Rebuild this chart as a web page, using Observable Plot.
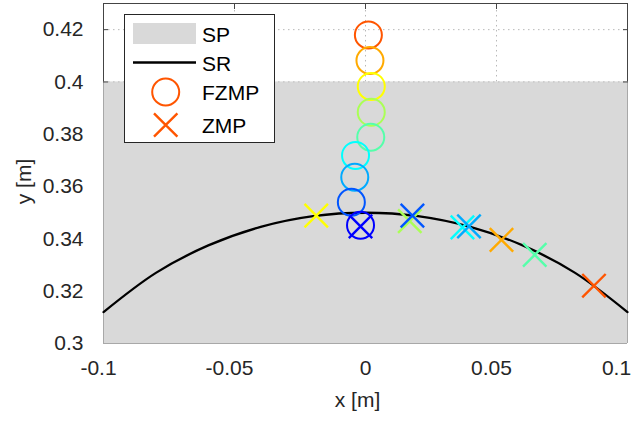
<!DOCTYPE html>
<html>
<head>
<meta charset="utf-8">
<script src="https://cdn.jsdelivr.net/npm/d3@7"></script>
<script src="https://cdn.jsdelivr.net/npm/@observablehq/plot@0.6"></script>
<style>
  html, body { margin: 0; padding: 0; background: #fff; }
  #wrap { position: relative; width: 636px; height: 421px; }
  #legend { position: absolute; left: 0; top: 0; pointer-events: none; }
</style>
</head>
<body>
<div id="wrap"></div>
<script>
// ---- data ----
const xTicks = [-0.1, -0.05, 0, 0.05, 0.1];
const xTickLabels = ["-0.1", "-0.05", "0", "0.05", "0.1"];
const yTicks = [0.3, 0.32, 0.34, 0.36, 0.38, 0.4, 0.42];
const yTickLabels = ["0.3", "0.32", "0.34", "0.36", "0.38", "0.4", "0.42"];
const xDomain = [-0.1, 0.1];
const yDomain = [0.3, 0.43];
const xTitle = "x [m]";
const yTitle = "y [m]";

// support polygon (SP) band
const spX = [-0.1, 0.1];
const spY = [0.3, 0.4];

// support region boundary curve (SR)
const srX = [-0.1, -0.08, -0.06, -0.04, -0.02, 0, 0.02, 0.04, 0.06, 0.08, 0.1];
const srY = [0.312, 0.327, 0.3375, 0.3446, 0.3487, 0.35, 0.3487, 0.3446, 0.3375, 0.327, 0.312];

// time-step colours (jet-like)
const stepColors = ["#0000ff", "#0055ff", "#00aaff", "#00ffff", "#55ffaa", "#aaff55", "#ffff00", "#ffaa00", "#ff5500"];

// FZMP (circles)
const fzmpX = [-0.0019, -0.0054, -0.0041, -0.0038, 0.0020, 0.0022, 0.0022, 0.0017, 0.0011];
const fzmpY = [0.3452, 0.3540, 0.3636, 0.3719, 0.3789, 0.3884, 0.3983, 0.4082, 0.4180];

// ZMP (crosses)
const zmpX = [-0.0019, 0.0179, 0.0395, 0.0370, 0.0646, 0.0169, -0.0188, 0.0519, 0.0872];
const zmpY = [0.3448, 0.3489, 0.3448, 0.3444, 0.3339, 0.3468, 0.3489, 0.3396, 0.3221];

const legendLabels = ["SP", "SR", "FZMP", "ZMP"];

// ---- tables ----
const spData = [{x1: spX[0], x2: spX[1], y1: spY[0], y2: spY[1]}];
const srData = srX.map((x, i) => ({x, y: srY[i]}));
const order = d3.range(stepColors.length).reverse();
const fzmpData = order.map(i => ({x: fzmpX[i], y: fzmpY[i], c: stepColors[i]}));
const zmpData = order.map(i => ({x: zmpX[i], y: zmpY[i], c: stepColors[i]}));

const W = 636, H = 421;
const M = {left: 103, right: 9, top: 3, bottom: 78};
const FONT = "'Liberation Sans', Arial, Helvetica, sans-serif";
const FS = 21;
const gridStyle = {stroke: "#b8b8b8", strokeDasharray: "1.5,3.5", strokeWidth: 1};
const xLab = d => xTickLabels[xTicks.indexOf(d)];
const yLab = d => yTickLabels[yTicks.indexOf(d)];
const inner = xTicks.filter(v => v > xDomain[0] && v < xDomain[1]);

const chart = Plot.plot({
  width: W, height: H,
  marginLeft: M.left, marginRight: M.right, marginTop: M.top, marginBottom: M.bottom,
  x: {domain: xDomain},
  y: {domain: yDomain},
  color: {type: "identity"},
  style: {fontFamily: FONT, fontSize: FS + "px", color: "#262626", background: "#fff"},
  marks: [
    // grid in the white part
    Plot.ruleY(yTicks.filter(v => v >= spY[1]), {...gridStyle}),
    Plot.ruleX(inner, {y1: spY[1], y2: yDomain[1], ...gridStyle}),
    // SP patch
    Plot.rect(spData, {x1: "x1", x2: "x2", y1: "y1", y2: "y2", fill: "#d9d9d9"}),
    Plot.ruleY([spY[1]], {...gridStyle, stroke: "#c4c4c4"}),
    // patch edges
    Plot.ruleX(spX, {y1: spY[0], y2: spY[1], stroke: "#a8a8a8"}),
    Plot.ruleY([spY[0]], {stroke: "#a8a8a8"}),
    // frame of white region
    Plot.ruleX(xDomain, {y1: spY[1], y2: yDomain[1], stroke: "#444"}),
    Plot.ruleY([yDomain[1]], {stroke: "#444"}),
    // inward tick marks
    Plot.axisX(inner, {anchor: "top", tickSize: -5, tickFormat: () => "", label: null, stroke: "#444"}),
    Plot.axisY(yTicks.filter(v => v >= spY[1]), {anchor: "left", tickSize: -5, tickFormat: () => "", label: null, stroke: "#444"}),
    Plot.axisY(yTicks.filter(v => v >= spY[1]), {anchor: "right", tickSize: -5, tickFormat: () => "", label: null, stroke: "#444"}),
    // tick labels
    Plot.axisX([0], {anchor: "bottom", tickSize: 0, tickPadding: 17, tickFormat: xLab, label: null, fontSize: FS}),
    Plot.axisX([-0.1, -0.05, 0.05], {anchor: "bottom", tickSize: 0, tickPadding: 17, tickFormat: xLab, label: null, fontSize: FS, dx: -5}),
    Plot.axisX([0.1], {anchor: "bottom", tickSize: 0, tickPadding: 17, tickFormat: xLab, label: null, fontSize: FS, dx: -11}),
    Plot.axisY(yTicks, {anchor: "left", tickSize: 0, tickPadding: 20, tickFormat: yLab, label: null, fontSize: FS}),
    // axis titles
    Plot.text([xTitle], {frameAnchor: "bottom", textAnchor: "middle", lineAnchor: "middle", dy: 57, dx: -8, fontSize: FS, fill: "#262626"}),
    Plot.text([yTitle], {frameAnchor: "left", textAnchor: "middle", lineAnchor: "middle", dx: -79, dy: 8, rotate: -90, fontSize: FS, fill: "#262626"}),
    // SR curve
    Plot.line(srData, {x: "x", y: "y", stroke: "#000", strokeWidth: 2.3, curve: "catmull-rom"}),
    // ZMP crosses
    Plot.dot(zmpData, {x: "x", y: "y", stroke: "c", symbol: "times", r: 10.7, strokeWidth: 2.4, fill: "none"}),
    // FZMP circles
    Plot.dot(fzmpData, {x: "x", y: "y", stroke: "c", symbol: "circle", r: 13.5, strokeWidth: 2, fill: "none"})
  ]
});

const wrap = document.getElementById("wrap");
wrap.appendChild(chart);

// ---- legend overlay ----
const lg = d3.select(wrap).append("svg").attr("id", "legend")
  .attr("width", W).attr("height", H)
  .style("font-family", FONT).style("font-size", FS + "px");
const box = {x: 124.5, y: 14.5, w: 150, h: 128};
lg.append("rect").attr("x", box.x).attr("y", box.y).attr("width", box.w).attr("height", box.h)
  .attr("fill", "#fff").attr("stroke", "#262626").attr("stroke-width", 1);
const rowY = [33.5, 62.5, 92, 125];
lg.append("rect").attr("x", 133).attr("y", 23).attr("width", 63).attr("height", 21).attr("fill", "#d9d9d9");
lg.append("line").attr("x1", 133).attr("x2", 196).attr("y1", rowY[1]).attr("y2", rowY[1]).attr("stroke", "#000").attr("stroke-width", 2.3);
const legendColor = stepColors[stepColors.length - 1];
lg.append("circle").attr("cx", 165.7).attr("cy", rowY[2]).attr("r", 13.5).attr("fill", "none").attr("stroke", legendColor).attr("stroke-width", 2);
const a = 11.7;
lg.append("path").attr("d", `M${165.7 - a},${rowY[3] - a}L${165.7 + a},${rowY[3] + a}M${165.7 - a},${rowY[3] + a}L${165.7 + a},${rowY[3] - a}`)
  .attr("stroke", legendColor).attr("stroke-width", 2.4).attr("fill", "none");
legendLabels.forEach((t, i) => {
  lg.append("text").attr("x", 202).attr("y", rowY[i] + 1).attr("dy", "0.35em").attr("fill", "#000").text(t);
});
</script>
</body>
</html>
